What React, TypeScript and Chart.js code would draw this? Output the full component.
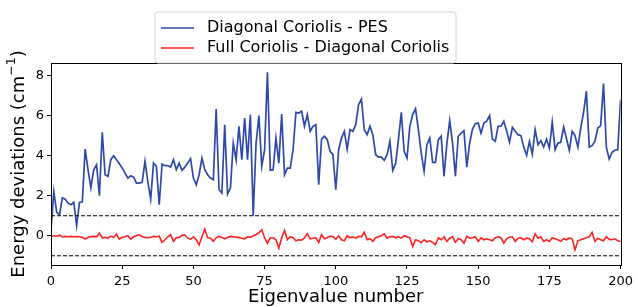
import React, { useEffect, useRef } from "react";
import { Chart, registerables } from "chart.js";

Chart.register(...registerables);

const seriesNames = ["Diagonal Coriolis - PES", "Full Coriolis - Diagonal Coriolis"];
const xTickValues = [0, 25, 50, 75, 100, 125, 150, 175, 200];
const yTickValues = [0, 2, 4, 6, 8];
const dashedLevels = [1, -1];

const diagMinusPes = [
  0.3, 2.2, 1.17, 1.05, 1.9, 1.83, 1.63, 1.55, 1.67, 0.5,
  1.67, 1.7, 4.33, 3.3, 2.4, 3.3, 3.55, 2.0, 5.17, 3.05,
  2.97, 3.8, 4.0, 3.8, 3.6, 3.38, 3.13, 2.88, 3.0, 2.93,
  2.63, 2.63, 2.67, 3.72, 2.7, 1.83, 3.63, 3.47, 1.55, 3.58,
  3.5, 3.5, 3.43, 3.8, 3.3, 3.63, 3.27, 3.43, 3.63, 3.85,
  2.88, 2.55, 3.05, 3.88, 3.3, 3.05, 2.88, 2.8, 6.33, 2.3,
  2.13, 5.55, 2.08, 2.38, 4.63, 3.8, 5.47, 3.8, 5.88, 3.8,
  6.05, 1.0, 4.6, 6.0, 3.47, 4.3, 8.17, 3.27, 3.3, 4.88,
  3.63, 6.08, 3.05, 3.38, 3.38, 4.3, 6.17, 6.13, 6.22, 5.47,
  6.05, 5.22, 5.47, 5.55, 2.55, 4.83, 4.97, 4.8, 4.22, 4.05,
  2.3, 4.3, 4.88, 5.22, 4.33, 5.3, 5.22, 5.55, 6.55, 6.83,
  5.3, 5.05, 5.47, 5.05, 4.05, 3.93, 3.93, 3.77, 4.05, 4.72,
  3.27, 3.6, 4.8, 6.17, 4.22, 3.88, 5.47, 6.05, 6.35, 5.3,
  4.13, 3.22, 4.55, 4.88, 3.67, 3.67, 4.8, 4.97, 2.97, 4.6,
  5.75, 4.63, 2.97, 4.97, 5.13, 5.25, 3.43, 4.63, 5.33, 5.6,
  5.63, 5.13, 5.63, 5.72, 6.0, 4.83, 4.72, 5.47, 5.47, 5.72,
  5.22, 4.68, 5.42, 5.22, 5.05, 5.0, 4.43, 4.02, 4.72, 4.08,
  5.3, 4.55, 4.75, 4.43, 4.83, 4.38, 5.67, 4.3, 4.63, 4.67,
  5.43, 4.85, 4.27, 5.22, 5.0, 4.43, 5.38, 6.17, 7.22, 4.43,
  4.5, 4.72, 5.38, 5.5, 7.6, 4.43, 3.83, 4.17, 4.27, 4.3,
  6.8,
];

const fullMinusDiag = [
  -0.05, 0.0, -0.02, 0.03, -0.05, -0.03, -0.05, -0.03, -0.05, -0.04,
  -0.05, -0.08, -0.17, -0.08, -0.05, -0.03, -0.05, 0.13, -0.1, -0.08,
  -0.12, -0.02, -0.08, 0.08, -0.17, -0.08, -0.05, 0.0, -0.17, -0.05,
  0.0, 0.05, -0.05, -0.08, -0.1, -0.07, -0.03, -0.05, -0.02, -0.33,
  -0.2, -0.05, 0.05, -0.28, -0.1, -0.08, 0.02, 0.05, -0.12, -0.18,
  -0.05, -0.2, -0.45, -0.05, 0.33, -0.1, -0.12, -0.28, -0.1, -0.03,
  -0.08, -0.15, -0.08, -0.03, -0.05, -0.07, -0.08, -0.12, -0.15, -0.05,
  -0.08, 0.0, 0.05, 0.15, 0.3, -0.1, -0.37, -0.1, -0.1, -0.2,
  -0.62, -0.1, 0.27, -0.2, -0.05, -0.1, -0.25, -0.2, -0.22, -0.1,
  0.1, -0.15, -0.12, -0.1, -0.33, 0.05, -0.15, -0.1, -0.02, -0.05,
  -0.18, 0.0, -0.2, -0.25, 0.0, -0.1, -0.05, -0.12, -0.03, -0.05,
  0.17, -0.2, -0.15, -0.28, -0.1, -0.05, 0.0, 0.1, -0.12, -0.05,
  -0.03, -0.1, -0.05, -0.12, 0.0, -0.05, -0.1, -0.53, -0.2, -0.25,
  -0.35, -0.2, -0.3, -0.25, -0.33, -0.45, -0.1, -0.2, -0.05, -0.28,
  -0.12, -0.05, -0.33, -0.15, -0.2, -0.37, -0.03, -0.12, -0.1, -0.05,
  -0.28, -0.1, -0.2, -0.15, -0.2, -0.25, -0.1, -0.05, -0.1, -0.37,
  -0.15, -0.07, -0.05, -0.28, -0.12, -0.1, -0.2, -0.12, -0.15, -0.3,
  0.1, -0.12, -0.05, -0.28, -0.2, -0.28, -0.1, -0.15, -0.2, -0.28,
  -0.15, -0.2, -0.1, -0.15, -0.7, -0.25, -0.2, -0.15, -0.1, -0.05,
  0.17, -0.28, -0.12, -0.2, -0.25, -0.05, -0.18, -0.2, -0.15, -0.25,
  -0.28,
];

const BLUE = "#2f49a8";
const RED = "#ff2222";
const FONT = "'DejaVu Sans', sans-serif";

const framePlugin = {
  id: "framePlugin",
  afterDraw(chart: any) {
    const { ctx, chartArea } = chart;
    const { left, right, top, bottom } = chartArea;
    ctx.save();
    ctx.strokeStyle = "#000";
    ctx.lineWidth = 1;
    ctx.strokeRect(Math.round(left) + 0.5, Math.round(top) + 0.5, Math.round(right - left), Math.round(bottom - top));

    // Legend box
    const lx = 155, ly = 12, lw = 301, lh = 51, r = 3;
    ctx.globalAlpha = 0.85;
    ctx.fillStyle = "#fff";
    ctx.beginPath();
    ctx.moveTo(lx + r, ly);
    ctx.lineTo(lx + lw - r, ly);
    ctx.quadraticCurveTo(lx + lw, ly, lx + lw, ly + r);
    ctx.lineTo(lx + lw, ly + lh - r);
    ctx.quadraticCurveTo(lx + lw, ly + lh, lx + lw - r, ly + lh);
    ctx.lineTo(lx + r, ly + lh);
    ctx.quadraticCurveTo(lx, ly + lh, lx, ly + lh - r);
    ctx.lineTo(lx, ly + r);
    ctx.quadraticCurveTo(lx, ly, lx + r, ly);
    ctx.closePath();
    ctx.fill();
    ctx.globalAlpha = 1;
    ctx.strokeStyle = "#d6d6d6";
    ctx.stroke();

    const rows = [
      { y: 28, color: BLUE, text: seriesNames[0] },
      { y: 48, color: RED, text: seriesNames[1] },
    ];
    ctx.font = `16px ${FONT}`;
    ctx.textBaseline = "middle";
    ctx.textAlign = "left";
    rows.forEach((row) => {
      ctx.strokeStyle = row.color;
      ctx.lineWidth = 1.5;
      ctx.beginPath();
      ctx.moveTo(161, row.y);
      ctx.lineTo(194, row.y);
      ctx.stroke();
      ctx.fillStyle = "#000";
      ctx.fillText(row.text, 207, row.y);
    });

    // X axis title
    ctx.font = `18px ${FONT}`;
    ctx.textAlign = "center";
    ctx.textBaseline = "middle";
    ctx.fillStyle = "#000";
    ctx.fillText("Eigenvalue number", (left + right) / 2, 297);

    // Y axis title with superscript
    const main = "Energy deviations (cm";
    const sup = "\u22121";
    const close = ")";
    ctx.font = `18px ${FONT}`;
    const wMain = ctx.measureText(main).width;
    const wClose = ctx.measureText(close).width;
    ctx.font = `12.5px ${FONT}`;
    const wSup = ctx.measureText(sup).width;
    const total = wMain + wSup + wClose;
    ctx.save();
    ctx.translate(19, (top + bottom) / 2);
    ctx.rotate(-Math.PI / 2);
    ctx.textAlign = "left";
    ctx.textBaseline = "middle";
    let x0 = -total / 2;
    ctx.font = `18px ${FONT}`;
    ctx.fillText(main, x0, 0);
    x0 += wMain;
    ctx.font = `12.5px ${FONT}`;
    ctx.fillText(sup, x0, -7);
    x0 += wSup;
    ctx.font = `18px ${FONT}`;
    ctx.fillText(close, x0, 0);
    ctx.restore();
    ctx.restore();
  },
};

export default function App() {
  const ref = useRef<HTMLCanvasElement | null>(null);

  useEffect(() => {
    if (!ref.current) return;
    const toPoints = (arr: number[]) => arr.map((v, i) => ({ x: i, y: v }));
    const xMin = xTickValues[0];
    const xMax = xTickValues[xTickValues.length - 1];
    const chart = new Chart(ref.current, {
      type: "line",
      data: {
        datasets: [
          ...dashedLevels.map((lv) => ({
            label: "level" + lv,
            data: [
              { x: xMin, y: lv },
              { x: xMax, y: lv },
            ],
            borderColor: "#000",
            borderWidth: 1,
            borderDash: [4, 2],
            pointRadius: 0,
            fill: false,
          })),
          {
            label: seriesNames[1],
            data: toPoints(fullMinusDiag),
            borderColor: RED,
            borderWidth: 1.6,
            pointRadius: 0,
            tension: 0,
            fill: false,
          },
          {
            label: seriesNames[0],
            data: toPoints(diagMinusPes),
            borderColor: BLUE,
            borderWidth: 1.7,
            pointRadius: 0,
            tension: 0,
            fill: false,
          },
        ],
      },
      options: {
        animation: false,
        responsive: false,
        layout: { padding: { left: 0, right: 13, top: 63, bottom: 0 } },
        plugins: {
          legend: { display: false },
          tooltip: { enabled: false },
        },
        scales: {
          x: {
            type: "linear",
            min: xMin,
            max: xMax,
            afterFit: (s: any) => {
              s.height = 42;
            },
            afterBuildTicks: (s: any) => {
              s.ticks = xTickValues.map((v) => ({ value: v }));
            },
            grid: { display: true, drawOnChartArea: false, drawTicks: true, tickLength: 4, color: "#000" },
            border: { display: true, color: "#000", width: 1 },
            ticks: {
              color: "#000",
              font: { family: FONT, size: 13 },
              padding: 5,
              maxRotation: 0,
              autoSkip: false,
            },
          },
          y: {
            type: "linear",
            min: -1.46,
            max: 8.63,
            afterFit: (s: any) => {
              s.width = 51;
            },
            afterBuildTicks: (s: any) => {
              s.ticks = yTickValues.map((v) => ({ value: v }));
            },
            grid: { display: true, drawOnChartArea: false, drawTicks: true, tickLength: 4, color: "#000" },
            border: { display: true, color: "#000", width: 1 },
            ticks: {
              color: "#000",
              font: { family: FONT, size: 13 },
              padding: 3,
              autoSkip: false,
            },
          },
        },
      },
      plugins: [framePlugin],
    } as any);
    return () => chart.destroy();
  }, []);

  return (
    <div style={{ position: "absolute", left: 0, top: 0, width: 638, height: 307, background: "#fff" }}>
      <canvas ref={ref} width={638} height={307} style={{ display: "block", width: 638, height: 307 }} />
    </div>
  );
}
